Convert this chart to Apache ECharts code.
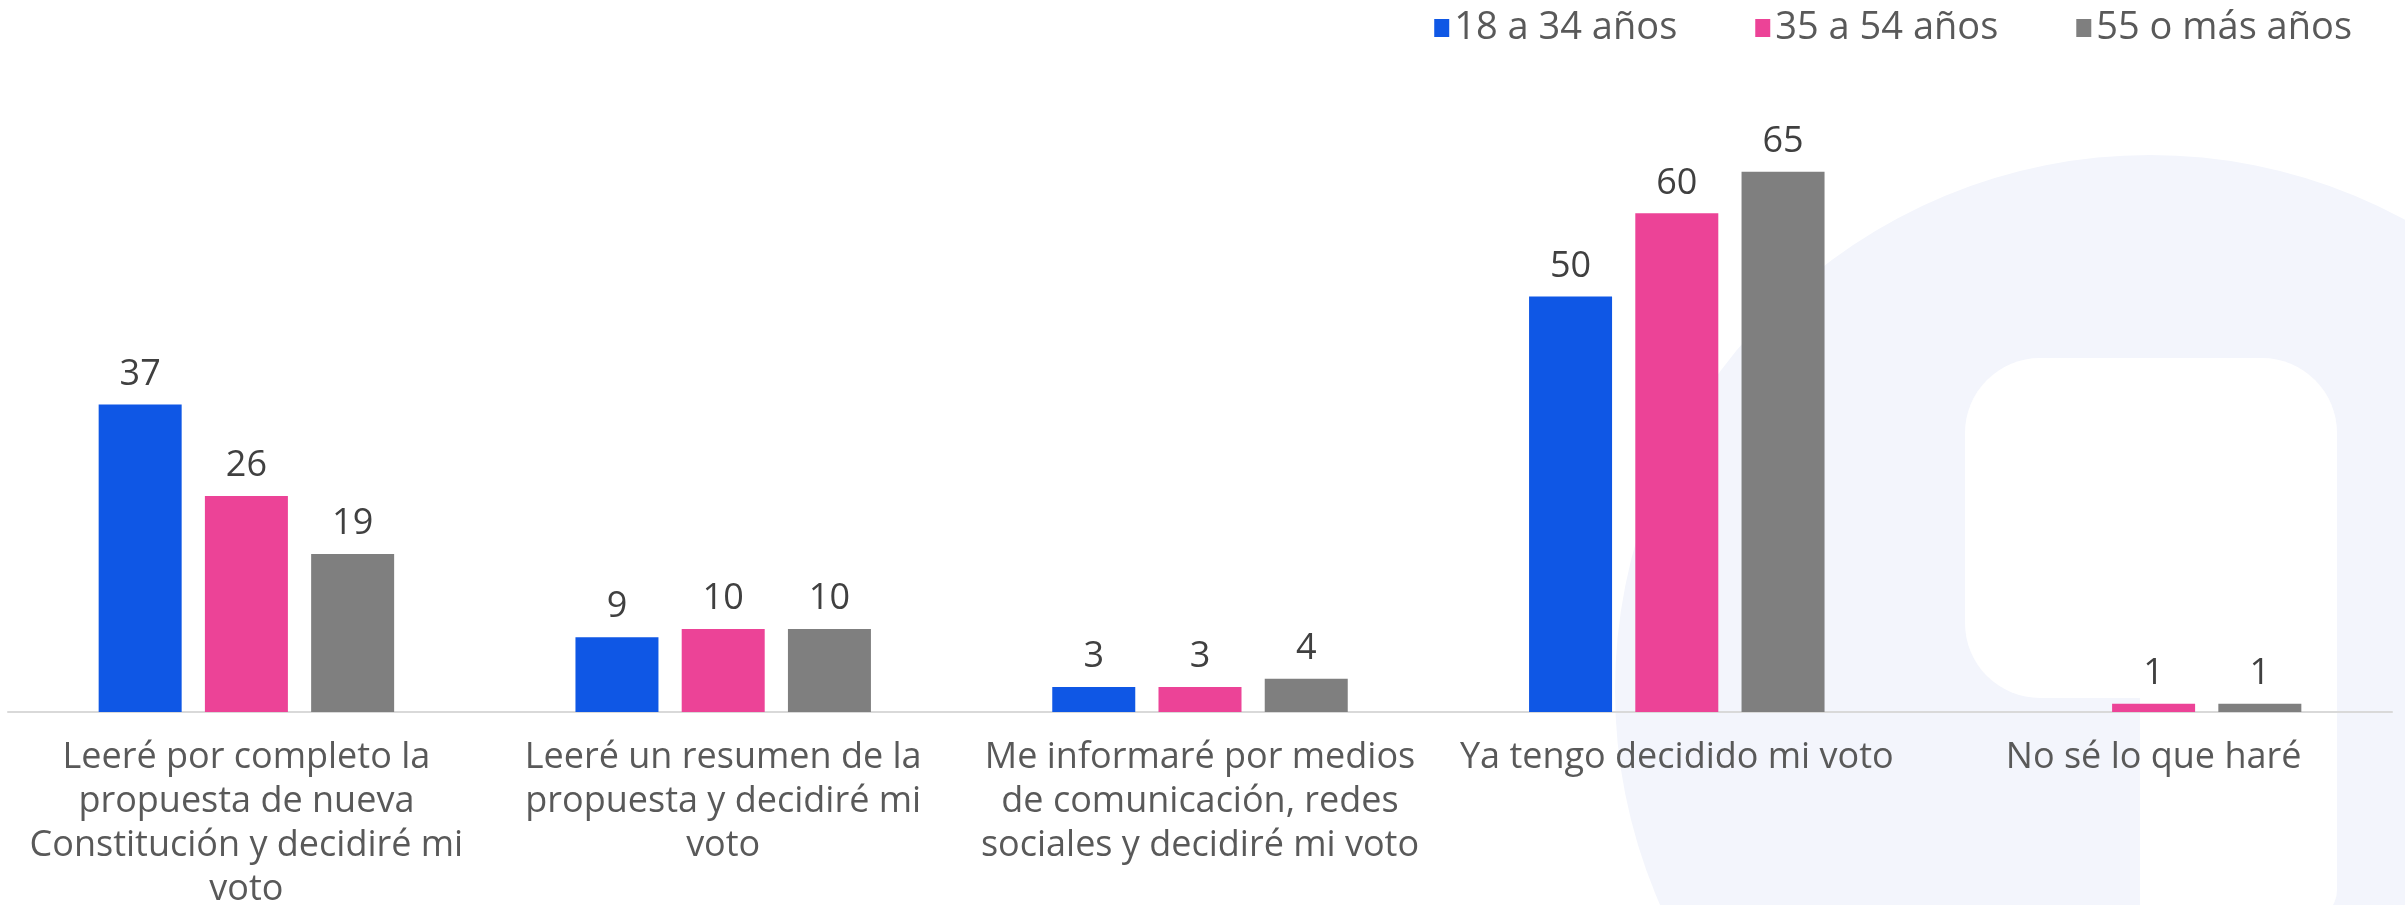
<!DOCTYPE html>
<html>
<head>
<meta charset="utf-8">
<script src="https://cdn.jsdelivr.net/npm/echarts@6/dist/echarts.min.js"></script>
<style>
  html, body {margin: 0; padding: 0; background: #fff;}
  #chart {width: 2405px; height: 905px;}
</style>
</head>
<body>
<div id="chart"></div>
<script>
// categorías (con saltos de línea como en el original)
const categorias = [
  'Leeré por completo la\npropuesta de nueva\nConstitución y decidiré mi\nvoto',
  'Leeré un resumen de la\npropuesta y decidiré mi\nvoto',
  'Me informaré por medios\nde comunicación, redes\nsociales y decidiré mi voto',
  'Ya tengo decidido mi voto',
  'No sé lo que haré'
]
const grupos = ['18 a 34 años', '35 a 54 años', '55 o más años']
const joven = [37, 9, 3, 50, null]
const adulto = [26, 10, 3, 60, 1]
const mayor = [19, 10, 4, 65, 1]
const colores = ['#0F57E5', '#EC4397', '#7F7F7F']

const fuente = '"Open Sans", "Noto Sans", sans-serif'

const myChart = echarts.init(document.getElementById('chart'))
myChart.setOption({
  animation: false,
  backgroundColor: '#fff',
  textStyle: {fontFamily: fuente},
  color: colores,
  // marca de agua de fondo
  graphic: [
    {type: 'circle', z: -10, silent: true, shape: {cx: 2150, cy: 690, r: 535}, style: {fill: '#F3F5FC'}},
    {type: 'rect', z: -9, silent: true, shape: {x: 1965, y: 358, width: 372, height: 340, r: 75}, style: {fill: '#FFFFFF'}},
    {type: 'rect', z: -9, silent: true, shape: {x: 2140, y: 620, width: 197, height: 300, r: [0, 0, 30, 0]}, style: {fill: '#FFFFFF'}}
  ],
  legend: {
    right: 48,
    top: 4,
    icon: 'rect',
    itemWidth: 15,
    itemHeight: 18,
    itemGap: 78,
    textStyle: {color: '#595959', fontSize: 38, fontFamily: fuente},
    data: grupos
  },
  grid: {left: 8, right: 13, top: 47, bottom: 193, outerBoundsMode: 'none'},
  xAxis: {
    type: 'category',
    data: categorias,
    axisTick: {show: false},
    axisLine: {lineStyle: {color: '#D9D9D9', width: 2}},
    axisLabel: {
      color: '#595959',
      fontSize: 36,
      lineHeight: 44,
      margin: 24,
      interval: 0,
      fontFamily: fuente
    }
  },
  yAxis: {type: 'value', min: 0, max: 80, show: false, splitLine: {show: false}},
  series: [joven, adulto, mayor].map((vals, i) => ({
    name: grupos[i],
    type: 'bar',
    data: vals,
    barWidth: 83,
    barGap: '28%',
    label: {
      show: true,
      position: 'top',
      distance: 12,
      color: '#404040',
      fontSize: 36,
      fontFamily: fuente
    }
  }))
})
</script>
</body>
</html>
